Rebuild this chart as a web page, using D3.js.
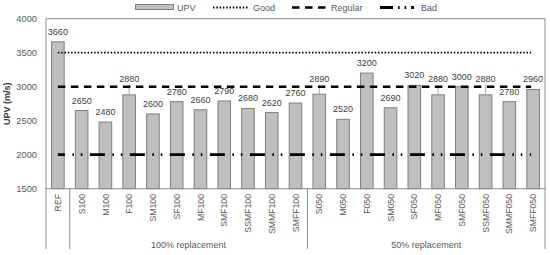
<!DOCTYPE html>
<html>
<head>
<meta charset="utf-8">
<script src="https://cdn.jsdelivr.net/npm/d3@7"></script>
<style>
body { margin: 0; background: #fff; }
text { font-family: "Liberation Sans", Arial, sans-serif; }
</style>
</head>
<body>
<script>
// bar data
var categories = ["REF", "S100", "M100", "F100", "SM100", "SF100", "MF100", "SMF100", "SSMF100", "SMMF100", "SMFF100",
                  "S050", "M050", "F050", "SM050", "SF050", "MF050", "SMF050", "SSMF050", "SMMF050", "SMFF050"];
var upv = [3660, 2650, 2480, 2880, 2600, 2780, 2660, 2790, 2680, 2620, 2760,
           2890, 2520, 3200, 2690, 3020, 2880, 3000, 2880, 2780, 2960];
// upper whisker tops (only visible ones)
var errTop = [null, null, null, 3030, null, null, null, null, null, null, null,
              3030, null, null, null, null, 3020, null, 3030, null, null];
var yTicks = [1500, 2000, 2500, 3000, 3500, 4000];
var limits = [
    {name: "Good", value: 3500},
    {name: "Regular", value: 3000},
    {name: "Bad", value: 2000}
];
var groups = [
    {name: "100% replacement", from: "S100", to: "SMFF100"},
    {name: "50% replacement", from: "S050", to: "SMFF050"}
];

var width = 550, height = 255;
var pLeft = 46, pRight = 545, pTop = 18.7, pBottom = 188.7;

var svg = d3.select("body").append("svg")
    .attr("width", width)
    .attr("height", height);

var x = d3.scaleBand().domain(categories).range([pLeft, pRight]).padding(0);
var y = d3.scaleLinear().domain([1500, 4000]).range([pBottom, pTop]);
var bw = x.bandwidth() * 0.53;
var cx = d => x(d) + x.bandwidth() / 2;

// y axis labels
svg.append("g").selectAll("text")
    .data(yTicks).enter().append("text")
    .attr("x", 37)
    .attr("y", d => y(d) + 3.3)
    .attr("text-anchor", "end")
    .attr("font-size", 9.3)
    .attr("fill", "#595959")
    .text(d => d);

svg.append("text")
    .attr("transform", "translate(10," + (pTop + pBottom) / 2 + ") rotate(-90)")
    .attr("text-anchor", "middle")
    .attr("font-size", 9)
    .attr("font-weight", "bold")
    .attr("fill", "#404040")
    .text("UPV (m/s)");

// bars
svg.append("g").selectAll("rect")
    .data(categories).enter().append("rect")
    .attr("x", d => cx(d) - bw / 2)
    .attr("y", (d, i) => y(upv[i]))
    .attr("width", bw)
    .attr("height", (d, i) => pBottom - y(upv[i]))
    .attr("fill", "#bfbfbf")
    .attr("stroke", "#7f7f7f")
    .attr("stroke-width", 1);

// whiskers
svg.append("g").selectAll("line")
    .data(categories.filter((d, i) => errTop[i] != null)).enter().append("line")
    .attr("x1", d => cx(d)).attr("x2", d => cx(d))
    .attr("y1", d => y(upv[categories.indexOf(d)]))
    .attr("y2", d => y(errTop[categories.indexOf(d)]))
    .attr("stroke", "#a6a6a6")
    .attr("stroke-width", 1);

// threshold lines
var x0 = cx(categories[0]), x1 = cx(categories[categories.length - 1]) - 2;
var lineStyle = {
    Good: {w: 1.8, dash: "1.5,1.8", offset: 0},
    Regular: {w: 2.6, dash: "7.5,5.5", offset: 0},
    Bad: {w: 2.8, dash: "15,7.5,1.6,6.8,1.6,7.5", offset: 8}
};
svg.append("g").selectAll("line")
    .data(limits).enter().append("line")
    .attr("x1", x0).attr("x2", x1)
    .attr("y1", d => y(d.value)).attr("y2", d => y(d.value))
    .attr("stroke", "#000")
    .attr("stroke-width", d => lineStyle[d.name].w)
    .attr("stroke-dasharray", d => lineStyle[d.name].dash)
    .attr("stroke-dashoffset", d => lineStyle[d.name].offset);

// value labels
svg.append("g").selectAll("text")
    .data(categories).enter().append("text")
    .attr("x", d => cx(d))
    .attr("y", (d, i) => errTop[i] != null ? y(errTop[i]) - 3 : y(upv[i]) - 7)
    .attr("text-anchor", "middle")
    .attr("font-size", 9)
    .attr("fill", "#404040")
    .text((d, i) => upv[i]);

// plot frame
svg.append("rect")
    .attr("x", pLeft).attr("y", pTop)
    .attr("width", pRight - pLeft).attr("height", pBottom - pTop)
    .attr("fill", "none")
    .attr("stroke", "#8c8c8c")
    .attr("stroke-width", 1);

// category labels
svg.append("g").selectAll("text")
    .data(categories).enter().append("text")
    .attr("transform", d => "translate(" + (cx(d) + 3.1) + ",194) rotate(-90)")
    .attr("text-anchor", "end")
    .attr("font-size", 8.7)
    .attr("fill", "#595959")
    .text(d => d);

// group separators
var seps = [pLeft, x("S100"), x("S050"), pRight];
svg.append("g").selectAll("line")
    .data(seps).enter().append("line")
    .attr("x1", d => d).attr("x2", d => d)
    .attr("y1", pBottom).attr("y2", 249)
    .attr("stroke", "#8c8c8c")
    .attr("stroke-width", 1);

svg.append("g").selectAll("text")
    .data(groups).enter().append("text")
    .attr("x", d => (x(d.from) + x(d.to) + x.bandwidth()) / 2)
    .attr("y", 248)
    .attr("text-anchor", "middle")
    .attr("font-size", 9)
    .attr("fill", "#595959")
    .text(d => d.name);

// legend
var leg = svg.append("g");
leg.append("rect")
    .attr("x", 135.5).attr("y", 4.5).attr("width", 38).attr("height", 5)
    .attr("fill", "#bfbfbf").attr("stroke", "#7f7f7f");
leg.append("text").attr("x", 177).attr("y", 11).attr("font-size", 9).attr("fill", "#595959").text("UPV");
var legItems = [
    {name: "Good", x1: 213, x2: 249, tx: 253},
    {name: "Regular", x1: 292, x2: 330, tx: 331},
    {name: "Bad", x1: 380, x2: 414, tx: 421}
];
var legDash = {Good: "1.5,1.8", Regular: "7.5,5.5", Bad: "13,5,1.6,5,1.6,5"};
legItems.forEach(function(d) {
    leg.append("line")
        .attr("x1", d.x1).attr("x2", d.x2).attr("y1", 7.5).attr("y2", 7.5)
        .attr("stroke", "#000")
        .attr("stroke-width", lineStyle[d.name].w)
        .attr("stroke-dasharray", legDash[d.name]);
    leg.append("text").attr("x", d.tx).attr("y", 11).attr("font-size", 9).attr("fill", "#595959").text(d.name);
});
</script>
</body>
</html>
